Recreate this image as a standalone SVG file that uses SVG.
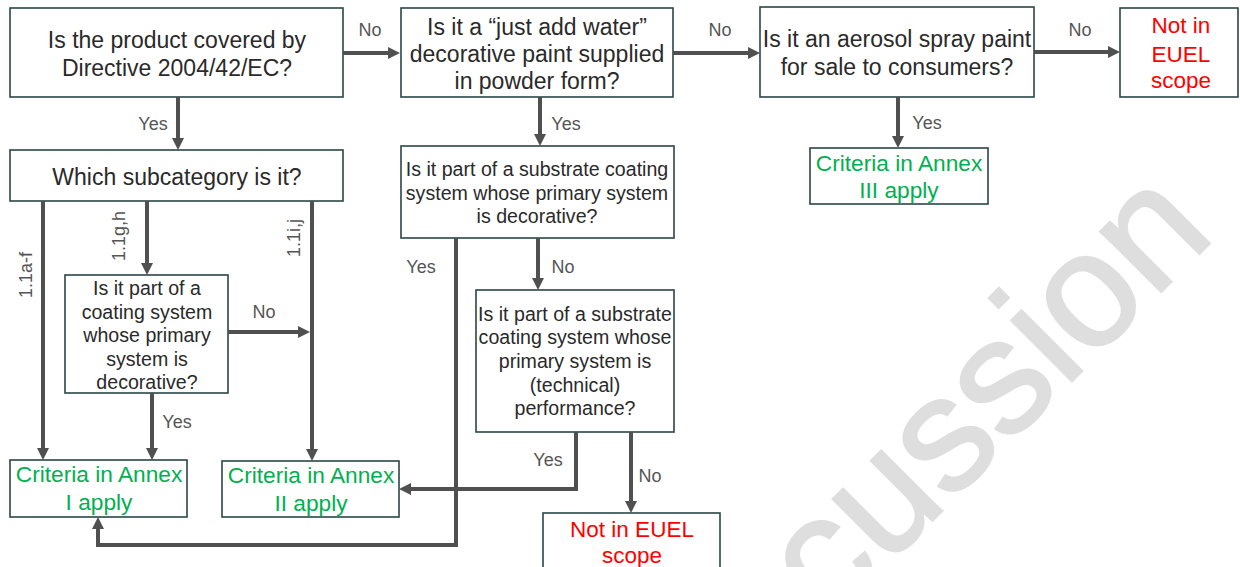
<svg xmlns="http://www.w3.org/2000/svg" width="1240" height="567" viewBox="0 0 1240 567">
<style>
.box{fill:#fff;stroke:#2b4545;stroke-width:1.6}
.t{font-family:"Liberation Sans",Arial,sans-serif;fill:#2a2a2a;text-anchor:middle}
.q{font-size:23px}
.s{font-size:19.6px}
.g{font-size:22.7px;fill:#00b050}
.r{font-size:22.5px;fill:#ff0000}
.lbl{font-family:"Liberation Sans",Arial,sans-serif;font-size:18px;fill:#555;text-anchor:middle}
.c{fill:none;stroke:#505050;stroke-width:4}
.wm{font-family:"Liberation Sans",Arial,sans-serif;font-size:162px;fill:#dedede;stroke:#dedede;stroke-width:2.5;text-anchor:end}
</style>
<defs>
<marker id="ah" markerUnits="userSpaceOnUse" markerWidth="12" markerHeight="12" viewBox="0 0 12 12" refX="4" refY="6" orient="auto">
<path d="M0,0 L12,6 L0,12 z" fill="#505050"/>
</marker>
</defs>
<text class="wm" x="1217" y="236" transform="rotate(-45 1217 236)">cussion</text>

<g id="n1"><rect class="box" x="10" y="8" width="333" height="89"/>
<text class="t q" x="177" y="48">Is the product covered by</text>
<text class="t q" x="177" y="76">Directive 2004/42/EC?</text></g>

<g id="n2"><rect class="box" x="401" y="8" width="272" height="89"/>
<text class="t q" x="537" y="35">Is it a “just add water”</text>
<text class="t q" x="537" y="62">decorative paint supplied</text>
<text class="t q" x="537" y="89">in powder form?</text></g>

<g id="n3"><rect class="box" x="760" y="7" width="274" height="90"/>
<text class="t q" x="897" y="47">Is it an aerosol spray paint</text>
<text class="t q" x="897" y="75">for sale to consumers?</text></g>

<g id="n4"><rect class="box" x="1120" y="8" width="118" height="89"/>
<text class="t r" x="1181" y="33">Not in</text>
<text class="t r" x="1181" y="62">EUEL</text>
<text class="t r" x="1181" y="88">scope</text></g>

<g id="n5"><rect class="box" x="810" y="148" width="178" height="56"/>
<text class="t g" x="899" y="171">Criteria in Annex</text>
<text class="t g" x="899" y="198">III apply</text></g>

<g id="n6"><rect class="box" x="10" y="150" width="333" height="51"/>
<text class="t q" x="177" y="185">Which subcategory is it?</text></g>

<g id="n7"><rect class="box" x="65" y="275" width="163" height="118"/>
<text class="t s" x="147" y="295">Is it part of a</text>
<text class="t s" x="147" y="318.5">coating system</text>
<text class="t s" x="147" y="342">whose primary</text>
<text class="t s" x="147" y="365.5">system is</text>
<text class="t s" x="147" y="389">decorative?</text></g>

<g id="n8"><rect class="box" x="10" y="460" width="177" height="57"/>
<text class="t g" x="99" y="482">Criteria in Annex</text>
<text class="t g" x="99" y="510">I apply</text></g>

<g id="n9"><rect class="box" x="222" y="461" width="177" height="56"/>
<text class="t g" x="311" y="483">Criteria in Annex</text>
<text class="t g" x="311" y="511">II apply</text></g>

<g id="n10"><rect class="box" x="401" y="146" width="273" height="92"/>
<text class="t s" x="537" y="176">Is it part of a substrate coating</text>
<text class="t s" x="537" y="200">system whose primary system</text>
<text class="t s" x="537" y="223">is decorative?</text></g>

<g id="n11"><rect class="box" x="476" y="290" width="198" height="142"/>
<text class="t s" x="575" y="321">Is it part of a substrate</text>
<text class="t s" x="575" y="344">coating system whose</text>
<text class="t s" x="575" y="368">primary system is</text>
<text class="t s" x="575" y="392">(technical)</text>
<text class="t s" x="575" y="415">performance?</text></g>

<g id="n12"><rect class="box" x="543" y="513" width="177" height="70"/>
<text class="t r" x="632" y="537">Not in EUEL</text>
<text class="t r" x="632" y="563">scope</text></g>

<g id="connectors">
<path class="c" marker-end="url(#ah)" d="M343,53 H392"/>
<path class="c" marker-end="url(#ah)" d="M673,53 H752"/>
<path class="c" marker-end="url(#ah)" d="M1034,52 H1112"/>
<path class="c" marker-end="url(#ah)" d="M178,97 V142"/>
<path class="c" marker-end="url(#ah)" d="M898,97 V140"/>
<path class="c" marker-end="url(#ah)" d="M540,97 V138"/>
<path class="c" marker-end="url(#ah)" d="M43,201 V452"/>
<path class="c" marker-end="url(#ah)" d="M147,201 V267"/>
<path class="c" marker-end="url(#ah)" d="M312,201 V453"/>
<path class="c" marker-end="url(#ah)" d="M228,332 H302"/>
<path class="c" marker-end="url(#ah)" d="M152,393 V452"/>
<path class="c" marker-end="url(#ah)" d="M538,238 V282"/>
<path class="c" marker-end="url(#ah)" d="M456,238 V545 H98 V525"/>
<path class="c" marker-end="url(#ah)" d="M576,432 V489 H407"/>
<path class="c" marker-end="url(#ah)" d="M631,432 V505"/>
<text class="lbl" x="370" y="36">No</text>
<text class="lbl" x="720" y="36">No</text>
<text class="lbl" x="1080" y="36">No</text>
<text class="lbl" x="153" y="130">Yes</text>
<text class="lbl" x="566" y="130">Yes</text>
<text class="lbl" x="927" y="129">Yes</text>
<text class="lbl" x="264" y="318">No</text>
<text class="lbl" x="177" y="428">Yes</text>
<text class="lbl" x="421" y="273">Yes</text>
<text class="lbl" x="563" y="273">No</text>
<text class="lbl" x="548" y="466">Yes</text>
<text class="lbl" x="650" y="482">No</text>
<text class="lbl" x="32" y="275" transform="rotate(-90 32 275)">1.1a-f</text>
<text class="lbl" x="125" y="236" transform="rotate(-90 125 236)">1.1g,h</text>
<text class="lbl" x="300" y="238" transform="rotate(-90 300 238)">1.1i,j</text>
</g>
</svg>
